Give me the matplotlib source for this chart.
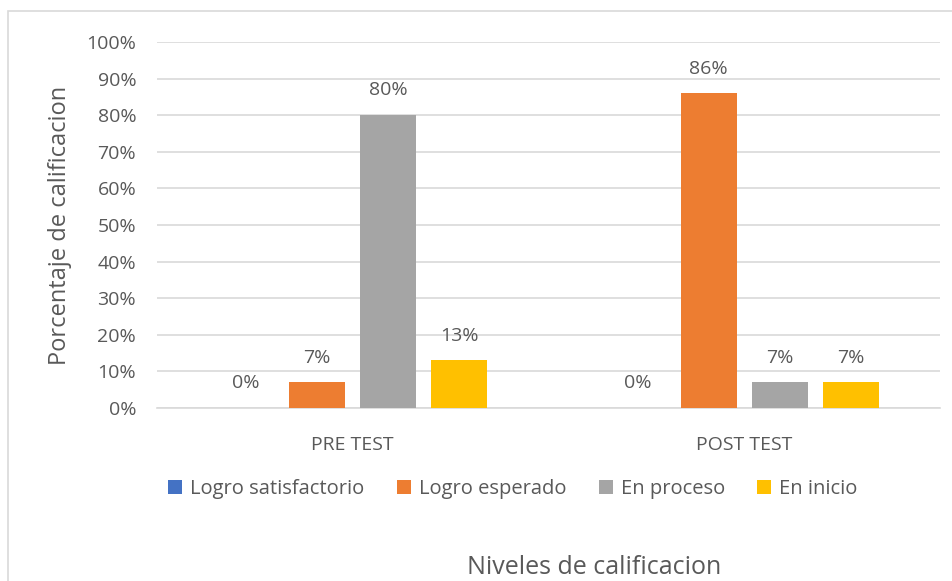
import numpy as np
import matplotlib.pyplot as plt
from matplotlib.patches import Rectangle

categories = ['PRE TEST', 'POST TEST']
series = ['Logro satisfactorio', 'Logro esperado', 'En proceso', 'En inicio']
values = {
    'Logro satisfactorio': [0, 0],
    'Logro esperado': [7, 86],
    'En proceso': [80, 7],
    'En inicio': [13, 7],
}
colors = ['#4472C4', '#ED7D31', '#A5A5A5', '#FFC000']
txt = '#595959'

plt.rcParams['font.family'] = ['Open Sans', 'DejaVu Sans']

W, H = 953, 581
fig = plt.figure(figsize=(W / 100, H / 100), dpi=100)
ax = fig.add_axes([157 / W, 1 - 408 / H, (940 - 157) / W, (408 - 42) / H])

# chart border
fig.patches.append(Rectangle((8 / W, -0.1), 1.2, 1 - 11 / H + 0.1, transform=fig.transFigure,
                             fill=False, ec='#D9D9D9', lw=1.2))

x = np.arange(len(categories))
step = 71 / 391.5
width = 56 / 391.5
for i, (name, c) in enumerate(zip(series, colors)):
    pos = x + (i - 1.5) * step
    bars = ax.bar(pos, values[name], width, color=c, label=name, zorder=3)
    for p, v in zip(pos, values[name]):
        ax.text(p, v + 4.3, f'{v}%', ha='center', va='bottom', fontsize=14, color=txt)

ax.set_xlim(-0.5, 1.5)
ax.set_ylim(0, 100)
ax.set_yticks(np.arange(0, 101, 10))
ax.set_yticklabels([f'{t}%' for t in range(0, 101, 10)])
ax.set_xticks(x)
ax.set_xticklabels(categories)
ax.tick_params(axis='both', length=0, labelsize=14, labelcolor=txt)
ax.tick_params(axis='x', pad=20)
ax.tick_params(axis='y', pad=15)
ax.grid(axis='y', color='#D9D9D9', lw=1.2, zorder=0)
for s in ['top', 'right', 'left']:
    ax.spines[s].set_visible(False)
ax.spines['bottom'].set_color('#D9D9D9')
ax.spines['bottom'].set_linewidth(1.2)

ax.set_ylabel('Porcentaje de calificacion', fontsize=17, color=txt, labelpad=10)
fig.text(594 / W, 1 - 567 / H, 'Niveles de calificacion', ha='center', va='center',
         fontsize=18, color=txt)

fig.legend(loc='center', bbox_to_anchor=(513 / W, 1 - 489 / H), ncol=4, frameon=False,
           fontsize=14.5, labelcolor=txt, handlelength=0.7, handleheight=0.7,
           handletextpad=0.4, columnspacing=1.6)

fig.savefig('out.png', dpi=100)
